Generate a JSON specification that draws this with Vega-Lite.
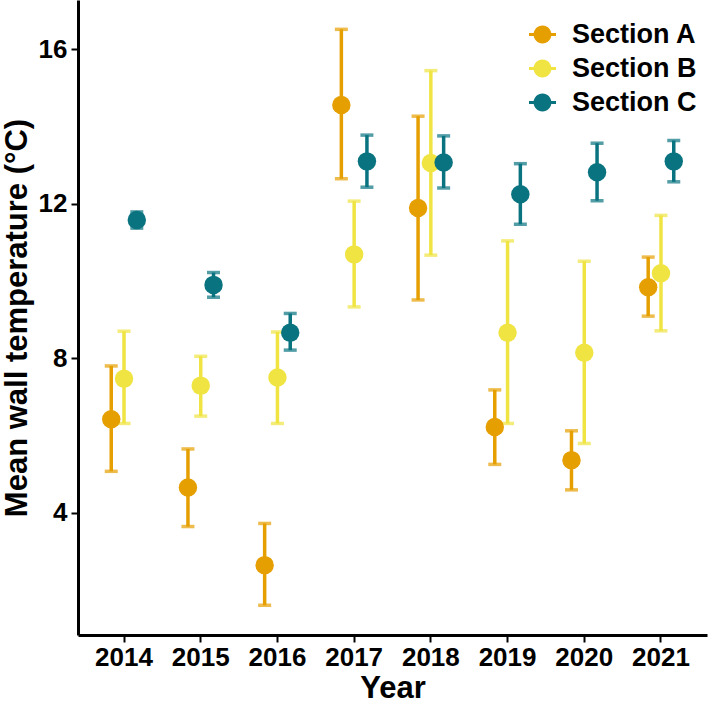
{
  "$schema": "https://vega.github.io/schema/vega-lite/v6.json",
  "width": 629,
  "height": 635,
  "autosize": "none",
  "padding": {"left": 78, "right": 2, "top": 0, "bottom": 71},
  "background": "white",
  "config": {
    "view": {"stroke": null},
    "font": "Liberation Sans",
    "axis": {
      "grid": false,
      "domainColor": "black",
      "domainWidth": 3,
      "tickColor": "black",
      "tickWidth": 2,
      "tickSize": 7,
      "labelFont": "Liberation Sans",
      "labelFontWeight": "bold",
      "labelFontSize": 26,
      "labelColor": "black",
      "titleFont": "Liberation Sans",
      "titleFontWeight": "bold",
      "titleFontSize": 31,
      "titleColor": "black"
    }
  },
  "data": {
    "values": [
      {"Year": "2014", "Section": "Section A", "mean": 6.42, "lo": 5.07, "hi": 7.80},
      {"Year": "2014", "Section": "Section B", "mean": 7.47, "lo": 6.31, "hi": 8.70},
      {"Year": "2014", "Section": "Section C", "mean": 11.58, "lo": 11.37, "hi": 11.79},
      {"Year": "2015", "Section": "Section A", "mean": 4.65, "lo": 3.64, "hi": 5.65},
      {"Year": "2015", "Section": "Section B", "mean": 7.29, "lo": 6.50, "hi": 8.05},
      {"Year": "2015", "Section": "Section C", "mean": 9.90, "lo": 9.58, "hi": 10.22},
      {"Year": "2016", "Section": "Section A", "mean": 2.64, "lo": 1.60, "hi": 3.72},
      {"Year": "2016", "Section": "Section B", "mean": 7.50, "lo": 6.31, "hi": 8.68},
      {"Year": "2016", "Section": "Section C", "mean": 8.66, "lo": 8.21, "hi": 9.16},
      {"Year": "2017", "Section": "Section A", "mean": 14.56, "lo": 12.65, "hi": 16.52},
      {"Year": "2017", "Section": "Section B", "mean": 10.69, "lo": 9.33, "hi": 12.07},
      {"Year": "2017", "Section": "Section C", "mean": 13.10, "lo": 12.43, "hi": 13.78},
      {"Year": "2018", "Section": "Section A", "mean": 11.89, "lo": 9.51, "hi": 14.27},
      {"Year": "2018", "Section": "Section B", "mean": 13.06, "lo": 10.67, "hi": 15.45},
      {"Year": "2018", "Section": "Section C", "mean": 13.07, "lo": 12.41, "hi": 13.76},
      {"Year": "2019", "Section": "Section A", "mean": 6.22, "lo": 5.25, "hi": 7.18},
      {"Year": "2019", "Section": "Section B", "mean": 8.66, "lo": 6.31, "hi": 11.04},
      {"Year": "2019", "Section": "Section C", "mean": 12.25, "lo": 11.47, "hi": 13.04},
      {"Year": "2020", "Section": "Section A", "mean": 5.36, "lo": 4.59, "hi": 6.12},
      {"Year": "2020", "Section": "Section B", "mean": 8.14, "lo": 5.79, "hi": 10.51},
      {"Year": "2020", "Section": "Section C", "mean": 12.82, "lo": 12.08, "hi": 13.57},
      {"Year": "2021", "Section": "Section A", "mean": 9.84, "lo": 9.09, "hi": 10.62},
      {"Year": "2021", "Section": "Section B", "mean": 10.20, "lo": 8.71, "hi": 11.70},
      {"Year": "2021", "Section": "Section C", "mean": 13.10, "lo": 12.57, "hi": 13.64}
    ]
  },
  "encoding": {
    "x": {
      "field": "Year", "type": "ordinal",
      "scale": {"type": "band", "paddingInner": 0.5, "paddingOuter": 0.35},
      "axis": {"title": "Year", "labelAngle": 0, "labelPadding": 2, "titlePadding": 3}
    },
    "xOffset": {
      "field": "Section", "type": "nominal",
      "scale": {"paddingInner": 0, "paddingOuter": 0}
    },
    "color": {
      "field": "Section", "type": "nominal",
      "scale": {"domain": ["Section A", "Section B", "Section C"], "range": ["#E69F00", "#F0E442", "#0A7380"]},
      "legend": {
        "title": null,
        "orient": "none",
        "legendX": 451,
        "legendY": 21,
        "padding": 0,
        "symbolType": "M -1 -0.12 H 1 V 0.12 H -1 Z M 0.66 0 A 0.66 0.66 0 1 1 -0.66 0 A 0.66 0.66 0 1 1 0.66 0 Z",
        "symbolSize": 729,
        "symbolOpacity": 1,
        "symbolStrokeWidth": 0,
        "labelFont": "Liberation Sans",
        "labelFontWeight": "bold",
        "labelFontSize": 27,
        "labelColor": "black",
        "labelOffset": 16,
        "rowPadding": 6,
        "encode": {
          "symbols": {
            "update": {
              "fill": {"scale": "color", "field": "value"},
              "stroke": {"value": "transparent"},
              "opacity": {"value": 1}
            }
          }
        }
      }
    }
  },
  "layer": [
    {
      "mark": {"type": "rule", "strokeWidth": 3.5},
      "encoding": {
        "y": {
          "field": "lo", "type": "quantitative",
          "scale": {"domain": [0.83, 17.28], "nice": false, "zero": false},
          "axis": {"title": "Mean wall temperature (°C)", "values": [4, 8, 12, 16], "labelPadding": 4, "titlePadding": 5}
        },
        "y2": {"field": "hi"}
      }
    },
    {
      "mark": {"type": "tick", "thickness": 3.5, "size": 13, "orient": "horizontal"},
      "encoding": {
        "y": {"field": "lo", "type": "quantitative"}
      }
    },
    {
      "mark": {"type": "tick", "thickness": 3.5, "size": 13, "orient": "horizontal"},
      "encoding": {
        "y": {"field": "hi", "type": "quantitative"}
      }
    },
    {
      "mark": {"type": "point", "filled": true, "opacity": 1, "shape": "circle", "size": 340},
      "encoding": {
        "y": {"field": "mean", "type": "quantitative"}
      }
    }
  ]
}
